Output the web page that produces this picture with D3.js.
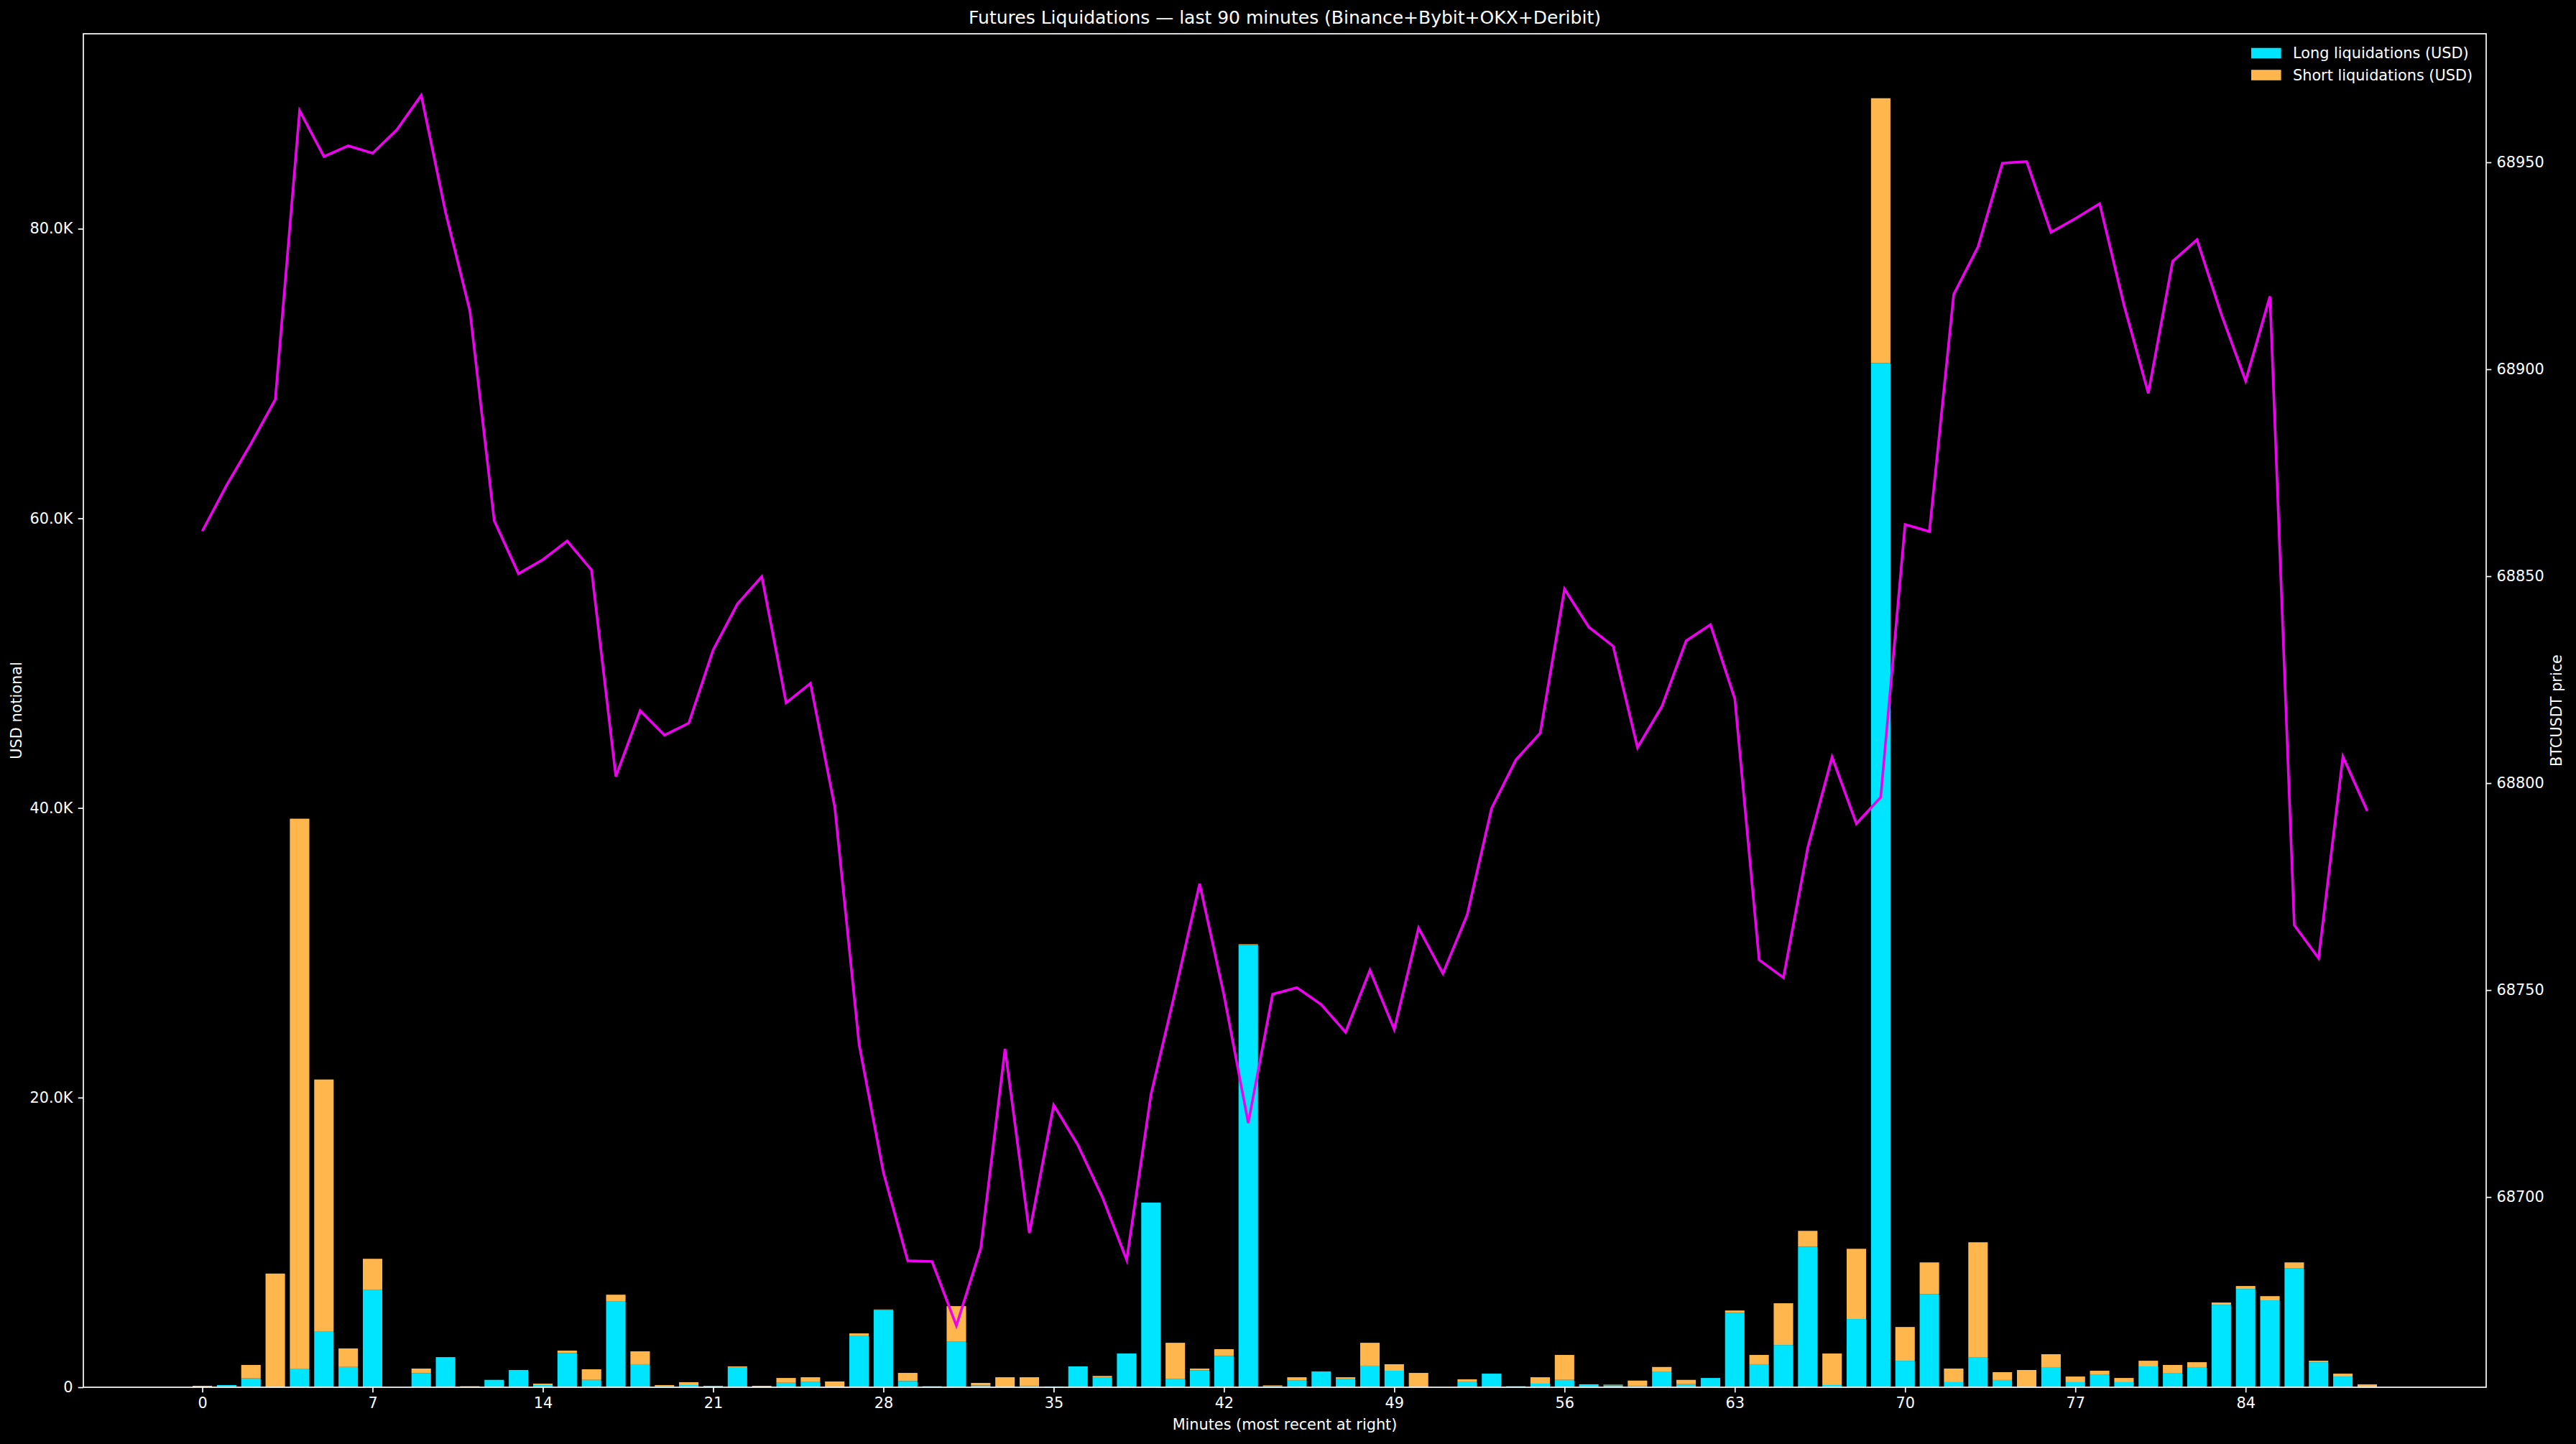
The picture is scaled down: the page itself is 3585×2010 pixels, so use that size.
<!DOCTYPE html>
<html>
<head>
<meta charset="utf-8">
<script src="https://cdn.jsdelivr.net/npm/d3@7"></script>
<style>
  html, body { margin: 0; padding: 0; background: #000; }
  svg { display: block; }
  text { font-family: "DejaVu Sans", sans-serif; fill: #fff; }
</style>
</head>
<body>
<svg id="chart" width="3585" height="2010"></svg>
<script>
// ---- data (USD notional per minute, index 0..89) ----
const minutes = d3.range(90);
const longLiq = [
  0, 150, 610, 0, 1290, 3830, 1400, 6740, 0, 960,
  2080, 0, 510, 1190, 150, 2350, 510, 5950, 1590, 100,
  150, 100, 1350, 0, 310, 360, 0, 3570, 5340, 430,
  70, 3140, 120, 0, 70, 50, 1440, 690, 2330, 12750,
  590, 1160, 2150, 30540, 80, 460, 1090, 590, 1490, 1140,
  0, 0, 400, 940, 70, 250, 510, 150, 130, 70,
  1090, 210, 640, 5150, 1590, 2920, 9710, 150, 4710, 70710,
  1830, 6440, 350, 2080, 500, 0, 1390, 350, 890, 350,
  1440, 990, 1390, 5700, 6790, 6000, 8230, 1730, 740, 0
];
const shortLiq = [
  100, 0, 930, 7850, 37970, 17420, 1280, 2130, 0, 330,
  0, 70, 0, 0, 100, 180, 730, 440, 890, 50,
  200, 0, 90, 100, 330, 330, 400, 150, 30, 560,
  0, 2460, 180, 690, 620, 0, 0, 90, 0, 0,
  2480, 130, 480, 50, 50, 230, 0, 100, 1580, 450,
  990, 0, 150, 0, 0, 440, 1720, 50, 50, 390,
  310, 300, 0, 150, 640, 2880, 1090, 2180, 4850, 18300,
  2330, 2180, 940, 7930, 540, 1190, 890, 390, 250, 290,
  390, 550, 340, 150, 200, 290, 390, 100, 200, 200
];
const price = [
  68860.9, 68872.0, 68882.0, 68892.7, 68962.5, 68951.4, 68954.0, 68952.2, 68957.9, 68966.2,
  68937.9, 68914.1, 68863.4, 68850.6, 68854.0, 68858.5, 68851.5, 68801.6, 68817.5, 68811.6,
  68814.5, 68832.2, 68843.3, 68849.9, 68819.4, 68824.1, 68794.2, 68736.9, 68705.9, 68684.6,
  68684.4, 68668.9, 68687.6, 68735.8, 68691.3, 68722.2, 68712.5, 68700.0, 68684.8, 68724.8,
  68749.8, 68775.7, 68748.8, 68717.9, 68749.0, 68750.6, 68746.5, 68739.8, 68754.8, 68740.5,
  68765.0, 68754.0, 68768.2, 68793.9, 68805.6, 68812.1, 68846.9, 68837.7, 68833.1, 68808.6,
  68818.5, 68834.4, 68838.3, 68820.4, 68757.3, 68753.0, 68784.4, 68806.3, 68790.2, 68796.6,
  68862.5, 68860.8, 68918.1, 68929.6, 68949.8, 68950.2, 68933.1, 68936.4, 68940.0, 68915.5,
  68894.2, 68926.1, 68931.3, 68913.3, 68897.2, 68917.6, 68765.7, 68757.7, 68806.4, 68793.3
];
const xTicks = [0, 7, 14, 21, 28, 35, 42, 49, 56, 63, 70, 77, 84];
const yLeftTicks = [0, 20000, 40000, 60000, 80000];
const yRightTicks = [68700, 68750, 68800, 68850, 68900, 68950];
const seriesNames = ["Long liquidations (USD)", "Short liquidations (USD)"];
const titleText = "Futures Liquidations \u2014 last 90 minutes (Binance+Bybit+OKX+Deribit)";

// ---- layout ----
const W = 3585, H = 2010;
const L = 116, R = 3460, T = 47, B = 1931;
const FS = 20.8;
const cLong = "#00e5ff", cShort = "#ffb74d", cLine = "#f000f0";

const svg = d3.select("#chart");
svg.append("rect").attr("width", W).attr("height", H).attr("fill", "#000");

const barW = 0.8;
const lo = -barW / 2, hi = minutes.length - 1 + barW / 2;
const xpad = 0.05 * (hi - lo);
const x = d3.scaleLinear().domain([lo - xpad, hi + xpad]).range([L, R]);

const totals = minutes.map(i => longLiq[i] + shortLiq[i]);
const yL = d3.scaleLinear().domain([0, d3.max(totals) * 1.05]).range([B, T]);

const pmin = d3.min(price), pmax = d3.max(price), pr = pmax - pmin;
const yR = d3.scaleLinear().domain([pmin - 0.05 * pr, pmax + 0.05 * pr]).range([B, T]);

const plot = svg.append("g");
plot.append("defs").append("clipPath").attr("id", "clip")
  .append("rect").attr("x", L).attr("y", T).attr("width", R - L).attr("height", B - T);

const bw = x(barW) - x(0);
const gBars = plot.append("g").attr("clip-path", "url(#clip)");
gBars.selectAll("rect.long").data(minutes).join("rect")
  .attr("class", "long")
  .attr("x", i => x(i - barW / 2)).attr("width", bw)
  .attr("y", i => yL(longLiq[i])).attr("height", i => yL(0) - yL(longLiq[i]))
  .attr("fill", cLong);
gBars.selectAll("rect.short").data(minutes).join("rect")
  .attr("class", "short")
  .attr("x", i => x(i - barW / 2)).attr("width", bw)
  .attr("y", i => yL(longLiq[i] + shortLiq[i])).attr("height", i => yL(longLiq[i]) - yL(longLiq[i] + shortLiq[i]))
  .attr("fill", cShort);

const line = d3.line().x(i => x(i)).y(i => yR(price[i]));
plot.append("path").datum(minutes).attr("d", line)
  .attr("fill", "none").attr("stroke", cLine).attr("stroke-width", 3.6)
  .attr("stroke-linejoin", "miter").attr("clip-path", "url(#clip)");

// ---- axes ----
function styleAxis(g) {
  g.select(".domain").remove();
  g.selectAll(".tick line").attr("stroke", "#fff").attr("stroke-width", 1.7);
  g.selectAll(".tick text").attr("fill", "#fff").attr("font-size", FS)
    .attr("font-family", "DejaVu Sans, sans-serif");
}
const axB = d3.axisBottom(x).tickValues(xTicks).tickFormat(d3.format("d")).tickSize(7.3).tickPadding(7.3);
svg.append("g").attr("transform", `translate(0,${B})`).call(axB).call(styleAxis);

const fmtK = d => d === 0 ? "0" : (d / 1000).toFixed(1) + "K";
const axL = d3.axisLeft(yL).tickValues(yLeftTicks).tickFormat(fmtK).tickSize(7.3).tickPadding(7.3);
svg.append("g").attr("transform", `translate(${L},0)`).call(axL).call(styleAxis);

const axR = d3.axisRight(yR).tickValues(yRightTicks).tickFormat(d3.format("d")).tickSize(7.3).tickPadding(7.3);
svg.append("g").attr("transform", `translate(${R},0)`).call(axR).call(styleAxis);

// frame (spines)
svg.append("rect").attr("x", L).attr("y", T).attr("width", R - L).attr("height", B - T)
  .attr("fill", "none").attr("stroke", "#fff").attr("stroke-width", 1.7);

// ---- labels ----
svg.append("text").attr("x", (L + R) / 2).attr("y", 33).attr("text-anchor", "middle")
  .attr("font-size", 25).text(titleText);
svg.append("text").attr("x", (L + R) / 2).attr("y", 1990).attr("text-anchor", "middle")
  .attr("font-size", FS).text("Minutes (most recent at right)");
svg.append("text").attr("transform", `translate(30,${(T + B) / 2}) rotate(-90)`)
  .attr("text-anchor", "middle").attr("font-size", FS).text("USD notional");
svg.append("text").attr("transform", `translate(3565,${(T + B) / 2}) rotate(-90)`)
  .attr("text-anchor", "middle").attr("font-size", FS).text("BTCUSDT price");

// ---- legend ----
const legend = svg.append("g");
const colors = [cLong, cShort];
seriesNames.forEach((name, k) => {
  const cy = 74 + k * 30.5;
  legend.append("rect").attr("x", 3133).attr("y", cy - 7.3).attr("width", 41.6).attr("height", 14.6)
    .attr("fill", colors[k]);
  legend.append("text").attr("x", 3191).attr("y", cy).attr("dy", "0.35em")
    .attr("font-size", FS).text(name);
});
</script>
</body>
</html>
